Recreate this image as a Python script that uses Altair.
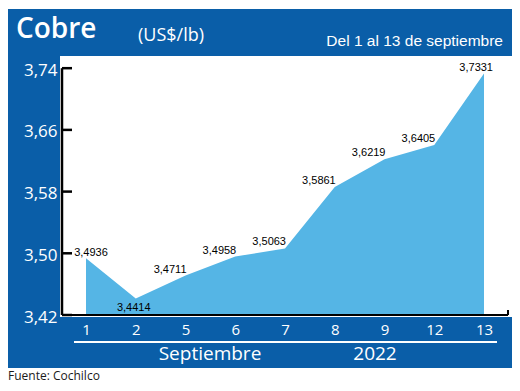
import altair as alt
import pandas as pd

# ---------------- data ----------------
dias = ["1", "2", "5", "6", "7", "8", "9", "12", "13"]
precios = [3.4936, 3.4414, 3.4711, 3.4958, 3.5063, 3.5861, 3.6219, 3.6405, 3.7331]
y_ticks = [3.42, 3.50, 3.58, 3.66, 3.74]
titulo = "Cobre"
unidad = "(US$/lb)"
periodo = "Del 1 al 13 de septiembre"
mes = "Septiembre"
anio = "2022"
fuente = "Fuente: Cochilco"

# ---------------- style ----------------
AZUL = "#0A5EA8"
CELESTE = "#55B5E5"
HUM = "Open Sans, Noto Sans, sans-serif"
NARROW = "Liberation Sans, Arial, sans-serif"
W, H = 452, 259

df = pd.DataFrame({"dia": dias, "precio": precios})
df_ticks = pd.DataFrame({"v": y_ticks})
one = pd.DataFrame({"k": [0]})

xsc = alt.Scale(type="point", domain=dias, range=[26, 424], padding=0)
ysc = alt.Scale(domain=[3.42, 3.7558], nice=False, zero=False)

xax = alt.Axis(title=None, domain=False, ticks=False, grid=False, labelAngle=0,
               labelColor="white", labelFont=HUM, labelFontSize=15,
               labelPadding=7, zindex=1)
yax = alt.Axis(title=None, values=y_ticks, domain=False, ticks=False, grid=False,
               labelColor="white", labelFont=HUM, labelFontSize=17,
               labelPadding=3, labelOffset=2, zindex=1,
               labelExpr="replace(format(datum.value, '.2f'), '.', ',')")

deco = alt.Chart(one)

blue_bg = deco.mark_rect(color=AZUL).encode(
    x=alt.value(-52), x2=alt.value(W), y=alt.value(-47), y2=alt.value(312))
panel = deco.mark_rect(color="white").encode(
    x=alt.value(0), x2=alt.value(W), y=alt.value(0), y2=alt.value(261))

area = alt.Chart(df).mark_area(color=CELESTE).encode(
    x=alt.X("dia:N", scale=xsc, sort=dias, axis=xax),
    y=alt.Y("precio:Q", scale=ysc, axis=yax),
    y2=alt.datum(3.42),
)

tick_rules = alt.Chart(df_ticks).mark_rule(color="black", strokeWidth=2.5).encode(
    y=alt.Y("v:Q", scale=ysc, axis=yax), x=alt.value(2), x2=alt.value(12))

y_line = deco.mark_rule(color="black", strokeWidth=2.5).encode(
    x=alt.value(2), y=alt.Y(datum=3.74, scale=ysc, axis=yax), y2=alt.datum(3.42))
bottom_line = deco.mark_rule(color="black", strokeWidth=2).encode(
    x=alt.value(2), x2=alt.value(448), y=alt.Y(datum=3.42, scale=ysc, axis=yax))
right_tick = deco.mark_rule(color="black", strokeWidth=2).encode(
    x=alt.value(448), y=alt.value(254), y2=alt.value(259))

white_line = deco.mark_rule(color="white", strokeWidth=2).encode(
    x=alt.value(14), x2=alt.value(437), y=alt.value(286))

def txt(s, x, y, font, size, color="white", align="left", weight="normal"):
    return deco.mark_text(text=s, font=font, fontSize=size, color=color,
                          align=align, baseline="alphabetic", fontWeight=weight).encode(
        x=alt.value(x), y=alt.value(y))

t_title = txt(titulo, -44, -18, HUM, 28, weight=600)
t_unit = txt(unidad, 78, -15, HUM, 18)
t_period = txt(periodo, 443, -10, NARROW, 15.5, align="right")
t_mes = txt(mes, 150, 304, HUM, 19, align="center")
t_anio = txt(anio, 315, 304, HUM, 19, align="center")
t_src = txt(fuente, -52, 324, HUM, 12, color="#1a1a1a")

lab_base = alt.Chart(df).transform_calculate(
    label="replace(format(datum.precio, '.4f'), '.', ',')")

def labels(days, align, dx, dy):
    return lab_base.transform_filter(
        alt.FieldOneOfPredicate(field="dia", oneOf=days)).mark_text(
        font=NARROW, fontSize=11, color="black", align=align,
        baseline="alphabetic", dx=dx, dy=dy).encode(
        x=alt.X("dia:N", scale=xsc, sort=dias, axis=xax),
        y=alt.Y("precio:Q", scale=ysc, axis=yax),
        text="label:N")

lab_mid = labels(dias[2:8], "right", 1, -3)
lab_1 = labels(dias[0:1], "center", 5, -2)
lab_2 = labels(dias[1:2], "center", -2, 13)
lab_13 = labels(dias[8:9], "right", 9, -3)

chart = alt.layer(
    blue_bg, panel, area, bottom_line, right_tick, tick_rules, y_line, white_line,
    t_title, t_unit, t_period, t_mes, t_anio, t_src,
    lab_mid, lab_1, lab_2, lab_13,
).properties(
    width=W, height=H,
    padding={"left": 52, "top": 48, "right": 0, "bottom": 68},
    autosize=alt.AutoSizeParams(type="none"),
).configure_view(stroke=None).configure(background="white")

chart.save("out.html", embed_options={"renderer": "svg", "actions": False})
